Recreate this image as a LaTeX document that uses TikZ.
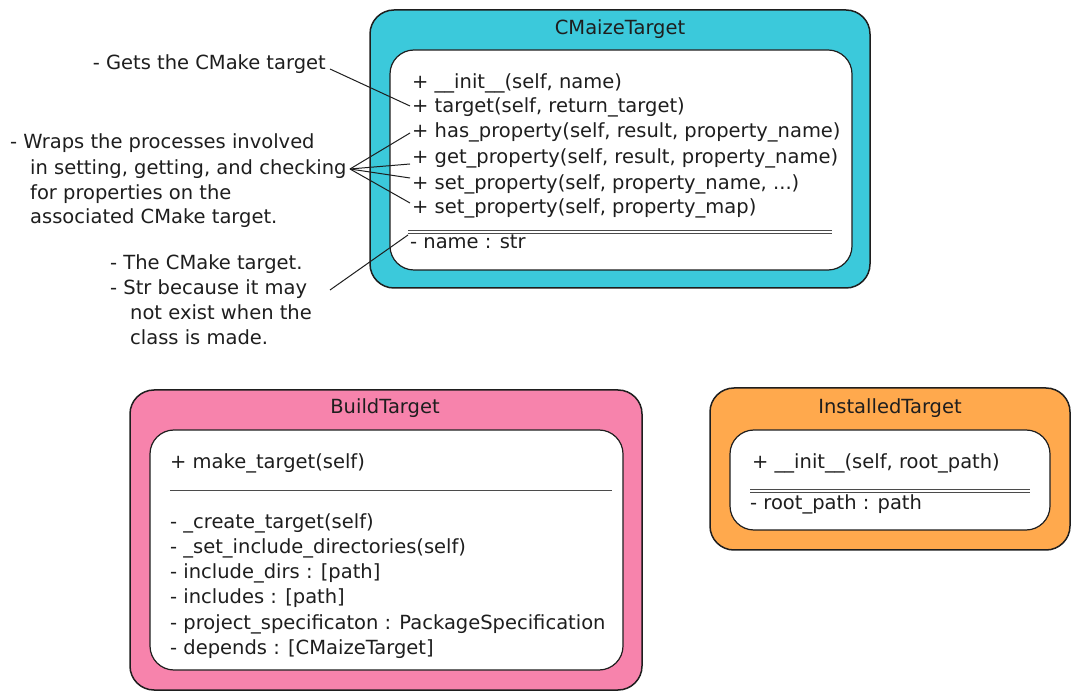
\documentclass[tikz,border=0pt]{standalone}
\usepackage{fontspec}
\setmainfont{DejaVu Sans}
\definecolor{ink}{HTML}{1E1E1E}
\definecolor{cyanfill}{HTML}{3BC9DB}
\definecolor{pinkfill}{HTML}{F783AC}
\definecolor{orangefill}{HTML}{FFA94D}
\begin{document}
\begin{tikzpicture}[x=1pt,y=-1pt,
  outerbox/.style={draw=ink, line width=1.5pt, rounded corners=24pt, inner sep=0pt},
  innerbox/.style={draw=ink, fill=white, line width=1.2pt, rounded corners=24pt, inner sep=0pt},
  txt/.style={anchor=west, inner sep=0pt, text height=17pt, text depth=3pt, font=\fontsize{19.5}{22}\selectfont, text=ink},
  ttl/.style={inner sep=0pt, text height=17pt, text depth=3pt, font=\fontsize{19.5}{22}\selectfont, text=ink},
  sep/.style={draw=ink!80, line width=0.7pt},
  link/.style={draw=ink, line width=1pt},
]
\useasboundingbox (0,0) rectangle (1080,700);
\fill[white] (0,0) rectangle (1080,700);

% ---------- CMaizeTarget ----------
\node[outerbox, fill=cyanfill, minimum width=500pt, minimum height=278pt] (cmzOuter) at (620,149) {};
\node[innerbox, minimum width=462pt, minimum height=220pt] (cmzInner) at (621,160) {};
\node[ttl] (cmzTitle) at (620,28) {CMaizeTarget};
\node[txt] (cmzInit)  at (412,82)  {+ \_\_init\_\_(self, name)};
\node[txt] (cmzTgt)   at (412,106) {+ target(self, return\_target)};
\node[txt] (cmzHas)   at (412,131) {+ has\_property(self, result, property\_name)};
\node[txt] (cmzGet)   at (412,157) {+ get\_property(self, result, property\_name)};
\node[txt] (cmzSet)   at (412,183) {+ set\_property(self, property\_name, ...)};
\node[txt] (cmzSetMap) at (412,207) {+ set\_property(self, property\_map)};
\draw[sep] (408,230) -- (832,230);
\draw[sep] (408,233) -- (832,233);
\node[txt] (cmzName)  at (410,242) {- name : str};

% ---------- BuildTarget ----------
\node[outerbox, fill=pinkfill, minimum width=512pt, minimum height=300pt] (bldOuter) at (386,540) {};
\node[innerbox, minimum width=473pt, minimum height=240pt] (bldInner) at (386.5,550) {};
\node[ttl] (bldTitle) at (385,407) {BuildTarget};
\node[txt] (bldMake) at (170,462) {+ make\_target(self)};
\draw[sep] (170,490) -- (612,490);
\node[txt] (bldCreate) at (170,522) {- \_create\_target(self)};
\node[txt] (bldSetInc) at (170,547) {- \_set\_include\_directories(self)};
\node[txt] (bldIncDirs) at (170,572) {- include\_dirs : [path]};
\node[txt] (bldIncs) at (170,597) {- includes : [path]};
\node[txt] (bldProj) at (170,622) {- project\_specificaton : PackageSpecification};
\node[txt] (bldDeps) at (170,647) {- depends : [CMaizeTarget]};

% ---------- InstalledTarget ----------
\node[outerbox, fill=orangefill, minimum width=360pt, minimum height=162pt] (insOuter) at (890,469) {};
\node[innerbox, minimum width=320pt, minimum height=100pt] (insInner) at (890,480) {};
\node[ttl] (insTitle) at (890,407) {InstalledTarget};
\node[txt] (insInit) at (752,462) {+ \_\_init\_\_(self, root\_path)};
\draw[sep] (750,489) -- (1030,489);
\draw[sep] (750,492) -- (1030,492);
\node[txt] (insRoot) at (750,503) {- root\_path : path};

% ---------- annotations ----------
\node[txt, anchor=east] (noteGets) at (326,63) {- Gets the CMake target};

\node[txt] (noteWrapsA) at (10,142) {- Wraps the processes involved};
\node[txt] (noteWrapsB) at (30,168) {in setting, getting, and checking};
\node[txt] (noteWrapsC) at (30,193) {for properties on the};
\node[txt] (noteWrapsD) at (30,217) {associated CMake target.};

\node[txt] (noteStrA) at (110,263) {- The CMake target.};
\node[txt] (noteStrB) at (110,288) {- Str because it may};
\node[txt] (noteStrC) at (130,313) {not exist when the};
\node[txt] (noteStrD) at (130,338) {class is made.};

\coordinate (getsEnd) at (330,69);
\coordinate (wrapsHub) at (350,169);
\coordinate (strEnd) at (330,290);

\draw[link] (getsEnd) -- ([xshift=-2pt]cmzTgt.west);
\draw[link] (wrapsHub) -- ([xshift=-2pt,yshift=-2pt]cmzHas.west);
\draw[link] (wrapsHub) -- ([xshift=-2pt,yshift=-7pt]cmzGet.west);
\draw[link] (wrapsHub) -- ([xshift=-2pt,yshift=5pt]cmzSet.west);
\draw[link] (wrapsHub) -- ([xshift=-2pt,yshift=4pt]cmzSetMap.west);
\draw[link] (strEnd) -- ([xshift=-2pt,yshift=7pt]cmzName.west);
\end{tikzpicture}
\end{document}
